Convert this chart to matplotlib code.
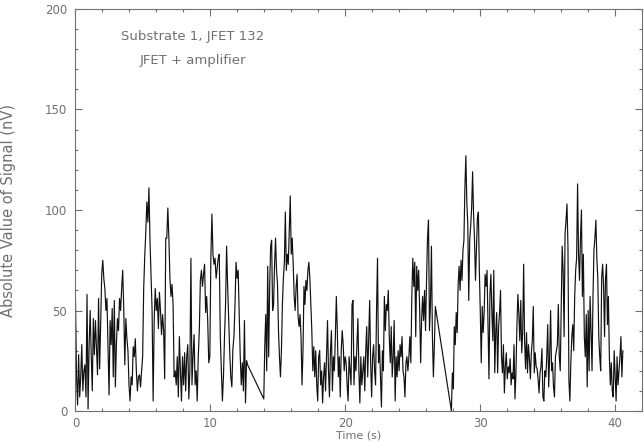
import matplotlib
matplotlib.use("Agg")
import matplotlib.pyplot as plt
from matplotlib.ticker import MultipleLocator
import numpy as np

# three recorded stretches (gaps in between are bridged by a straight line)
seg_start = [0.0, 13.96, 27.87]
seg_end = [12.76, 26.68, 40.58]

seg1 = [55, 17, 3, 28, 7, 17, 33, 10, 20, 23, 7, 58, 1, 33, 50, 28, 10, 46, 28, 45,
        32, 18, 56, 21, 43, 68, 75, 66, 61, 50, 56, 33, 8, 45, 33, 51, 17, 55, 12, 33,
        46, 40, 56, 50, 61, 70, 51, 23, 46, 36, 30, 13, 5, 17, 13, 32, 27, 36, 20, 10,
        17, 18, 12, 20, 27, 61, 77, 89, 104, 94, 111, 85, 68, 50, 5, 45, 61, 50, 56, 41,
        59, 50, 38, 48, 40, 16, 86,
        86, 101, 86, 66, 57, 63, 53, 17, 20, 13, 27, 7, 37, 20, 5, 27, 13, 29, 10, 27,
        33, 6, 20, 76, 13, 27, 38, 13, 20, 5, 27, 40, 65, 70, 62, 68, 73, 49, 57, 45,
        24, 27, 76, 98, 78, 73, 76, 66, 71, 76, 78, 37, 20, 5, 17, 37, 53, 82, 62, 46,
        29, 17, 12, 31, 37, 53, 74, 66, 70, 49, 27, 13, 24, 10, 45, 4, 25, 23]

seg2 = [6, 32, 48, 20, 72, 27, 62, 82, 85, 50, 53, 73, 86, 70, 63, 40, 27, 17, 30, 53,
        66, 74, 99, 70, 78, 73, 90, 107, 78, 86, 73, 57, 50, 62, 68, 47, 42, 48, 37, 13,
        30, 62, 53, 65, 60, 70, 74, 66, 53, 40, 20, 32, 17, 30, 13, 5, 27, 30, 13, 20,
        4, 17, 24, 10, 27, 45, 20, 7, 30, 40, 10, 27, 20, 37, 57, 40, 17, 27, 7, 30,
        40, 33, 20, 27, 24, 13, 5, 27, 20, 13, 53, 55,
        13, 27, 20, 33, 46, 20, 4, 27, 13, 20, 27, 10, 30, 42, 17, 37, 55, 24, 7, 27,
        33, 20, 13, 50, 76, 24, 33, 17, 2, 30, 20, 57, 40, 53, 50, 60, 37, 24, 42, 17,
        27, 45, 5, 27, 17, 30, 20, 33, 27, 37, 20, 17, 7, 24, 27, 20, 27, 37, 24, 57,
        76, 62, 74, 37, 72, 60, 70, 50, 24, 46, 57, 45, 60, 40, 65, 86, 95, 40, 53, 82,
        37, 17, 33, 52]

seg3 = [0, 19, 11, 42, 33, 49, 39, 63, 72, 60, 75, 65, 80, 85, 111, 127, 104, 93, 55, 85,
        92, 101, 119, 98, 85, 65, 80, 96, 99, 70, 49, 24, 52, 39, 49, 68, 62, 70, 42, 16,
        58, 68, 49, 35, 70, 19, 39, 49, 19, 42, 49, 60, 27, 19, 33, 9, 22, 29, 16, 22,
        19, 26, 13, 19, 16, 33, 6, 19, 42, 58, 49, 35, 55, 29, 39, 73, 35, 21, 39, 19,
        33, 26, 16, 29, 35, 52, 19, 29, 22, 21, 16, 9, 19, 22,
        31, 7, 5, 20, 17, 27, 43, 12, 27, 50, 20, 24, 12, 7, 27, 30, 33, 53, 27, 20,
        50, 82, 70, 37, 88, 95, 103, 82, 15, 5, 24, 37, 43, 30, 57, 70, 76, 113, 78, 65,
        86, 100, 57, 78, 37, 27, 48, 12, 50, 20, 57, 40, 20, 57, 80, 86, 95, 76, 66, 37,
        27, 20, 66, 73, 62, 37, 66, 73, 43, 57, 27, 13, 24, 10, 7, 30, 17, 5, 27, 13,
        20, 27, 37, 17, 30]

segments = [seg1, seg2, seg3]


def main():
    t = []
    v = []
    for a, b, s in zip(seg_start, seg_end, segments):
        t.extend(np.linspace(a, b, len(s)))
        v.extend(s)

    grey = "#707070"
    plt.rcParams["font.family"] = "DejaVu Sans"
    fig = plt.figure(figsize=(6.44, 4.43), dpi=100)
    ax = fig.add_axes([0.1172, 0.0722, 0.8797, 0.9075])

    ax.plot(t, v, color="#111111", lw=0.85)

    ax.set_xlim(0, 42)
    ax.set_ylim(0, 200)
    ax.xaxis.set_major_locator(MultipleLocator(10))
    ax.xaxis.set_minor_locator(MultipleLocator(2))
    ax.yaxis.set_major_locator(MultipleLocator(50))
    ax.yaxis.set_minor_locator(MultipleLocator(10))
    ax.tick_params(which="both", direction="in", top=True, right=True,
                   color=grey, labelcolor=grey, labelsize=8.5, width=0.8)
    ax.tick_params(which="major", length=5)
    ax.tick_params(which="minor", length=2.5)
    ax.tick_params(axis="x", pad=4)
    ax.tick_params(axis="y", pad=6)
    for sp in ax.spines.values():
        sp.set_color(grey)
        sp.set_linewidth(0.8)

    ax.set_xlabel("Time (s)", color=grey, fontsize=8)
    ax.set_ylabel("Absolute Value of Signal (nV)", color=grey, fontsize=10.5)
    ax.xaxis.set_label_coords(0.5, -0.049)
    ax.yaxis.set_label_coords(-0.105, 0.5)

    ax.text(8.7, 186.5, "Substrate 1, JFET 132", color=grey, fontsize=9.5,
            ha="center", va="center")
    ax.text(8.7, 174.5, "JFET + amplifier", color=grey, fontsize=9.5,
            ha="center", va="center")

    fig.savefig("out.png", dpi=100)


if __name__ == "__main__":
    main()
